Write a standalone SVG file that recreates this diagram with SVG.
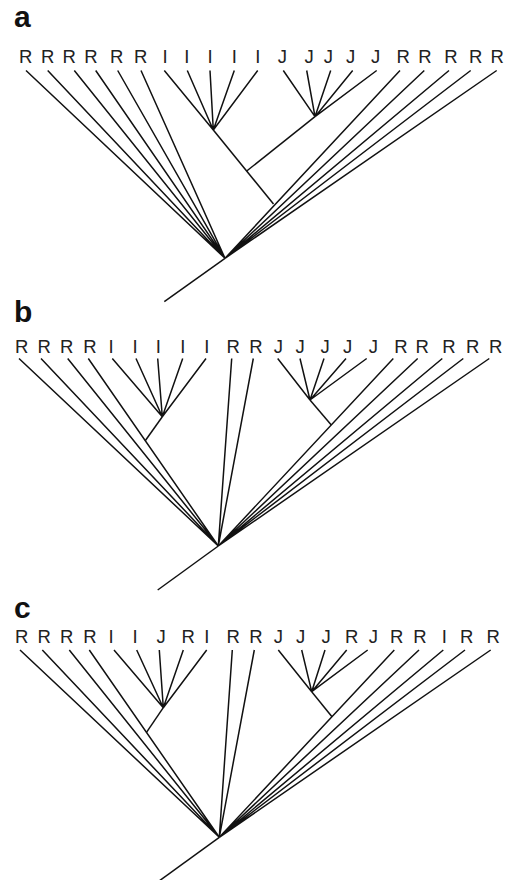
<svg xmlns="http://www.w3.org/2000/svg" width="508" height="880" viewBox="0 0 508 880">
  <style>
    .bg { fill: #ffffff; }
    .panel { font-family: "Liberation Sans", Arial, sans-serif; font-weight: bold; font-size: 30px; fill: #111; }
    .leaf text { font-family: "Liberation Sans", Arial, sans-serif; font-size: 18.5px; fill: #222; text-anchor: middle; }
    .edges path { fill: none; stroke: #111; stroke-width: 1.5; stroke-linecap: butt; stroke-linejoin: miter; }
  </style>
  <rect class="bg" x="0" y="0" width="508" height="880"/>

  <!-- Tree a -->
  <g id="tree-a">
    <text class="panel" x="14" y="26.7">a</text>
    <g class="leaf">
      <g id="a-leaf-1"><text x="25.7" y="63.3">R</text></g>
      <g id="a-leaf-2"><text x="47.7" y="63.3">R</text></g>
      <g id="a-leaf-3"><text x="69.3" y="63.3">R</text></g>
      <g id="a-leaf-4"><text x="91" y="63.3">R</text></g>
      <g id="a-leaf-5"><text x="116.7" y="63.3">R</text></g>
      <g id="a-leaf-6"><text x="140.7" y="63.3">R</text></g>
      <g id="a-leaf-7"><text x="165" y="63.3">I</text></g>
      <g id="a-leaf-8"><text x="186.7" y="63.3">I</text></g>
      <g id="a-leaf-9"><text x="210" y="63.3">I</text></g>
      <g id="a-leaf-10"><text x="234.3" y="63.3">I</text></g>
      <g id="a-leaf-11"><text x="257.7" y="63.3">I</text></g>
      <g id="a-leaf-12"><text x="282.3" y="63.3">J</text></g>
      <g id="a-leaf-13"><text x="309" y="63.3">J</text></g>
      <g id="a-leaf-14"><text x="328.3" y="63.3">J</text></g>
      <g id="a-leaf-15"><text x="350.7" y="63.3">J</text></g>
      <g id="a-leaf-16"><text x="375.7" y="63.3">J</text></g>
      <g id="a-leaf-17"><text x="403.3" y="63.3">R</text></g>
      <g id="a-leaf-18"><text x="425" y="63.3">R</text></g>
      <g id="a-leaf-19"><text x="451" y="63.3">R</text></g>
      <g id="a-leaf-20"><text x="475.7" y="63.3">R</text></g>
      <g id="a-leaf-21"><text x="497.3" y="63.3">R</text></g>
    </g>
    <g class="edges" id="a-edges">
      <path d="M164.3,301.7 L225,258.3"/>
      <path d="M26,70.5 L225,258.3 M47.7,70.5 L225,258.3 M74.3,70.5 L225,258.3 M95.7,70.5 L225,258.3 M117.7,70.5 L225,258.3 M141,70.5 L225,258.3"/>
      <path d="M164.3,70.5 L213.3,130 M187.3,70.5 L213.3,130 M210,70.5 L213.3,130 M234.3,70.5 L213.3,130 M257.7,70.5 L213.3,130"/>
      <path d="M213.3,130 L273.5,204"/>
      <path d="M283.3,70.5 L315,116.7 M306.7,70.5 L315,116.7 M330.7,70.5 L315,116.7 M352.7,70.5 L315,116.7 M376.7,70.5 L315,116.7"/>
      <path d="M315,116.7 L246.7,171"/>
      <path d="M400,70.5 L225,258.3 M424.3,70.5 L225,258.3 M449,70.5 L225,258.3 M470.7,70.5 L225,258.3 M496.7,70.5 L225,258.3"/>
    </g>
  </g>

  <!-- Tree b -->
  <g id="tree-b">
    <text class="panel" x="14" y="322.3">b</text>
    <g class="leaf">
      <g id="b-leaf-1"><text x="21.7" y="352.7">R</text></g>
      <g id="b-leaf-2"><text x="44.3" y="352.7">R</text></g>
      <g id="b-leaf-3"><text x="66.7" y="352.7">R</text></g>
      <g id="b-leaf-4"><text x="90" y="352.7">R</text></g>
      <g id="b-leaf-5"><text x="111" y="352.7">I</text></g>
      <g id="b-leaf-6"><text x="135" y="352.7">I</text></g>
      <g id="b-leaf-7"><text x="158.3" y="352.7">I</text></g>
      <g id="b-leaf-8"><text x="182.7" y="352.7">I</text></g>
      <g id="b-leaf-9"><text x="206.7" y="352.7">I</text></g>
      <g id="b-leaf-10"><text x="233.3" y="352.7">R</text></g>
      <g id="b-leaf-11"><text x="256" y="352.7">R</text></g>
      <g id="b-leaf-12"><text x="278.3" y="352.7">J</text></g>
      <g id="b-leaf-13"><text x="300" y="352.7">J</text></g>
      <g id="b-leaf-14"><text x="325" y="352.7">J</text></g>
      <g id="b-leaf-15"><text x="347.7" y="352.7">J</text></g>
      <g id="b-leaf-16"><text x="373.3" y="352.7">J</text></g>
      <g id="b-leaf-17"><text x="401" y="352.7">R</text></g>
      <g id="b-leaf-18"><text x="422.3" y="352.7">R</text></g>
      <g id="b-leaf-19"><text x="449" y="352.7">R</text></g>
      <g id="b-leaf-20"><text x="472.7" y="352.7">R</text></g>
      <g id="b-leaf-21"><text x="495.7" y="352.7">R</text></g>
    </g>
    <g class="edges" id="b-edges">
      <path d="M157.7,590 L218.3,546"/>
      <path d="M19,358.5 L218.3,546 M41,358.5 L218.3,546 M67.7,358.5 L218.3,546 M88.3,358.5 L218.3,546"/>
      <path d="M112.3,358.5 L162.3,416.7 M136,358.5 L162.3,416.7 M157.7,358.5 L162.3,416.7 M182.7,358.5 L162.3,416.7 M206,358.5 L162.3,416.7"/>
      <path d="M162.3,416.7 L145.4,440.5"/>
      <path d="M231.7,358.5 L218.3,546 M253.3,358.5 L218.3,546"/>
      <path d="M277.7,358.5 L310,400 M300,358.5 L310,400 M324,358.5 L310,400 M346,358.5 L310,400 M366.7,358.5 L310,400"/>
      <path d="M310,400 L331.3,425"/>
      <path d="M393.3,358.5 L218.3,546 M417.7,358.5 L218.3,546 M442.3,358.5 L218.3,546 M463.3,358.5 L218.3,546 M489.3,358.5 L218.3,546"/>
    </g>
  </g>

  <!-- Tree c -->
  <g id="tree-c">
    <text class="panel" x="14" y="618">c</text>
    <g class="leaf">
      <g id="c-leaf-1"><text x="21.7" y="643.3">R</text></g>
      <g id="c-leaf-2"><text x="44.3" y="643.3">R</text></g>
      <g id="c-leaf-3"><text x="66.7" y="643.3">R</text></g>
      <g id="c-leaf-4"><text x="90" y="643.3">R</text></g>
      <g id="c-leaf-5"><text x="111" y="643.3">I</text></g>
      <g id="c-leaf-6"><text x="135" y="643.3">I</text></g>
      <g id="c-leaf-7"><text x="161" y="643.3">J</text></g>
      <g id="c-leaf-8"><text x="188.3" y="643.3">R</text></g>
      <g id="c-leaf-9"><text x="206.7" y="643.3">I</text></g>
      <g id="c-leaf-10"><text x="233.3" y="643.3">R</text></g>
      <g id="c-leaf-11"><text x="256" y="643.3">R</text></g>
      <g id="c-leaf-12"><text x="278.3" y="643.3">J</text></g>
      <g id="c-leaf-13"><text x="300.7" y="643.3">J</text></g>
      <g id="c-leaf-14"><text x="326" y="643.3">J</text></g>
      <g id="c-leaf-15"><text x="351.7" y="643.3">R</text></g>
      <g id="c-leaf-16"><text x="373.3" y="643.3">J</text></g>
      <g id="c-leaf-17"><text x="396.7" y="643.3">R</text></g>
      <g id="c-leaf-18"><text x="420" y="643.3">R</text></g>
      <g id="c-leaf-19"><text x="444.3" y="643.3">I</text></g>
      <g id="c-leaf-20"><text x="466.7" y="643.3">R</text></g>
      <g id="c-leaf-21"><text x="493.3" y="643.3">R</text></g>
    </g>
    <g class="edges" id="c-edges">
      <path d="M158.7,881.3 L219.3,837.3"/>
      <path d="M20,650 L219.3,837.3 M42.3,650 L219.3,837.3 M69.3,650 L219.3,837.3 M89.3,650 L219.3,837.3"/>
      <path d="M114,650 L163.3,707.7 M136.7,650 L163.3,707.7 M159.3,650 L163.3,707.7 M183.3,650 L163.3,707.7 M206.7,650 L163.3,707.7"/>
      <path d="M163.3,707.7 L146.5,732.3"/>
      <path d="M232.3,650 L219.3,837.3 M254.3,650 L219.3,837.3"/>
      <path d="M278.3,650 L311.7,691.7 M301.7,650 L311.7,691.7 M325,650 L311.7,691.7 M346.7,650 L311.7,691.7 M367.7,650 L311.7,691.7"/>
      <path d="M311.7,691.7 L332,716.7"/>
      <path d="M394.3,650 L219.3,837.3 M419,650 L219.3,837.3 M443.3,650 L219.3,837.3 M465,650 L219.3,837.3 M490.7,650 L219.3,837.3"/>
    </g>
  </g>
</svg>
